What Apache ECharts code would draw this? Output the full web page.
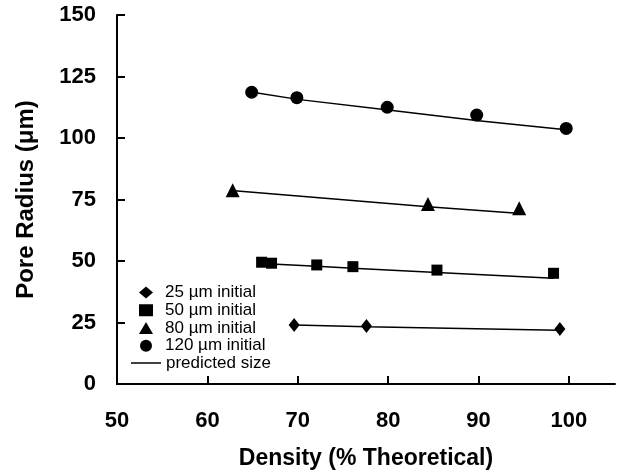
<!DOCTYPE html>
<html>
<head>
<meta charset="utf-8">
<script src="https://cdn.jsdelivr.net/npm/echarts@6/dist/echarts.min.js"></script>
<style>html,body{margin:0;padding:0;background:#fff;}#c{width:620px;height:475px;}</style>
</head>
<body>
<div id="c"></div>
<script>
const xTicks = [50, 60, 70, 80, 90, 100];
const yTicks = [0, 25, 50, 75, 100, 125, 150];
const seriesNames = ['25 µm initial', '50 µm initial', '80 µm initial', '120 µm initial'];
const lineName = 'predicted size';
const d25 = [[69.6, 24.0], [77.6, 23.6], [99.0, 22.4]];
const d50 = [[66.0, 49.5], [67.1, 49.1], [72.1, 48.4], [76.1, 47.7], [85.4, 46.3], [98.3, 45.0]];
const d80 = [[62.8, 78.8], [84.4, 73.2], [94.5, 71.4]];
const d120 = [[64.9, 118.6], [69.9, 116.4], [79.9, 112.5], [89.8, 109.3], [99.7, 103.9]];
const p25 = [[69.7, 24.0], [77.6, 23.3], [98.8, 21.9]];
const p50 = [[67.1, 48.8], [72.1, 47.9], [76.1, 47.1], [85.4, 45.3], [98.3, 43.0]];
const p80 = [[63.0, 78.6], [84.4, 72.1], [94.3, 69.4]];
const p120 = [[65.0, 118.6], [70.0, 115.7], [80.0, 111.4], [90.0, 107.0], [99.7, 103.4]];

const FONT = '"Liberation Sans", Arial, sans-serif';
const chart = echarts.init(document.getElementById('c'), null, {renderer: 'canvas'});

const symbols = ['diamond', 'rect', 'triangle', 'circle'];
const sizes = [[11, 14], 11, 14, 13];
const pts = [d25, d50, d80, d120];
const preds = [p25, p50, p80, p120];

const series = [];
preds.forEach(p => series.push({
  type: 'line', name: lineName, data: p, symbol: 'none', smooth: false,
  lineStyle: {color: '#000', width: 1.5}, itemStyle: {color: '#000'}, z: 2, silent: true
}));
pts.forEach((d, i) => series.push({
  type: 'scatter', name: seriesNames[i], data: d, symbol: symbols[i], symbolSize: sizes[i],
  symbolKeepAspect: true,
  itemStyle: {color: '#000', opacity: 1}, z: 3
}));

const axisCommon = {
  axisLine: {show: true, onZero: false, lineStyle: {color: '#000', width: 2}},
  axisTick: {show: true, inside: true, length: 8, lineStyle: {color: '#000', width: 2}},
  splitLine: {show: false},
  axisLabel: {color: '#000', fontFamily: FONT, fontWeight: 'bold', fontSize: 22},
  nameTextStyle: {color: '#000', fontFamily: FONT, fontWeight: 'bold', fontSize: 23}
};

const legendText = {color: '#000', fontFamily: FONT, fontSize: 17, lineHeight: 17};

chart.setOption({
  backgroundColor: '#fff',
  animation: false,
  grid: {left: 117, right: 5, top: 15, bottom: 91, containLabel: false, outerBoundsMode: 'none'},
  legend: [{
    orient: 'vertical', left: 134, top: 279,
    itemWidth: 14, itemHeight: 12, itemGap: 0.75,
    symbolKeepAspect: true,
    textStyle: Object.assign({}, legendText, {padding: [0, 0, 0, 7]}),
    data: seriesNames.map((n, i) => ({name: n, icon: symbols[i]}))
  }, {
    orient: 'vertical', left: 126, top: 349.5,
    itemWidth: 30, itemHeight: 1.5,
    textStyle: legendText,
    data: [{name: lineName, icon: 'rect'}]
  }],
  xAxis: Object.assign({}, axisCommon, {
    type: 'value', min: 50, max: 105.1,
    name: 'Density (% Theoretical)', nameLocation: 'middle', nameGap: 63,
    axisLabel: Object.assign({}, axisCommon.axisLabel, {margin: 26, customValues: xTicks}),
    axisTick: Object.assign({}, axisCommon.axisTick, {customValues: xTicks})
  }),
  yAxis: Object.assign({}, axisCommon, {
    type: 'value', min: 0, max: 150, interval: 25,
    name: 'Pore Radius (μm)', nameLocation: 'middle', nameGap: 79,
    nameTextStyle: Object.assign({}, axisCommon.nameTextStyle, {fontSize: 24}),
    axisLabel: Object.assign({}, axisCommon.axisLabel, {margin: 21, customValues: yTicks}),
    axisTick: Object.assign({}, axisCommon.axisTick, {customValues: yTicks})
  }),
  series: series
});
</script>
</body>
</html>
